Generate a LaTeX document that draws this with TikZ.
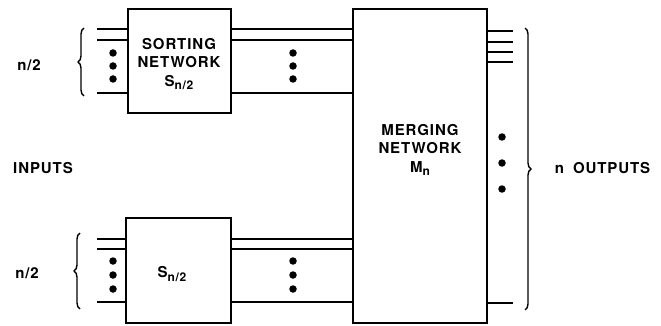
\documentclass[tikz,border=0pt]{standalone}
\usepackage{fontspec}
\setmainfont{TeX Gyre Heros}[LetterSpace=6]
\usetikzlibrary{positioning,decorations.pathreplacing}
\newcommand{\lowsub}[1]{\raisebox{-0.45ex}{\fontsize{12}{12}\selectfont #1}}

\begin{document}
\begin{tikzpicture}[x=1pt, y=-1pt, line width=1.7pt,
    box/.style={draw, line width=1.7pt, inner sep=0pt},
    lbl/.style={font=\fontsize{15}{18.5}\selectfont\bfseries, align=center, inner sep=0pt},
    dot/.style={circle, fill, inner sep=0pt, minimum size=7.5pt},
    brc/.style={decorate, decoration={brace, amplitude=6pt}, line width=1.4pt}]
    \useasboundingbox (0,0) rectangle (661,326);

    % Networks
    \node[box, minimum width=103pt, minimum height=104pt] (sortA) at (179.5,61) {};
    \node[box, minimum width=105pt, minimum height=105pt] (sortB) at (178.5,270.5) {};
    \node[box, minimum width=134pt, minimum height=314pt] (merge) at (420,166) {};

    \node[lbl] (sortAtxt) at (179,64) {SORTING\\NETWORK\\S\lowsub{n/2}};
    \node[lbl] (sortBtxt) at (172,274) {S\lowsub{n/2}};
    \node[lbl] (mergetxt) at (420,150) {MERGING\\NETWORK\\M\lowsub{n}};

    % Wires (top half)
    \foreach \y in {29,40,93} {
        \draw (97,\y) -- (sortA.west |- 0,\y);
        \draw (sortA.east |- 0,\y) -- (merge.west |- 0,\y);
    }
    % Wires (bottom half)
    \foreach \y in {239,249,302} {
        \draw (97,\y) -- (sortB.west |- 0,\y);
        \draw (sortB.east |- 0,\y) -- (merge.west |- 0,\y);
    }
    % Outputs
    \foreach \y in {31,42,52,62,303} {
        \draw (merge.east |- 0,\y) -- (513,\y);
    }

    % Dots
    \foreach \i/\y in {0/53, 1/66, 2/79} {
        \node[dot] (inA\i) at (113,\y) {};
        \node[dot] (midA\i) at (293,\y) {};
    }
    \foreach \i/\y in {0/261, 1/275, 2/289} {
        \node[dot] (inB\i) at (113,\y) {};
        \node[dot] (midB\i) at (293,\y) {};
    }
    \foreach \i/\y in {0/137, 1/163, 2/189} {
        \node[dot] (out\i) at (502,\y) {};
    }

    % Braces
    \draw[brc] (84,96) -- (84,28);
    \draw[brc] (80,309) -- (80,233);
    \draw[brc] (525,28) -- (525,310);

    \node[lbl] (halfA) at (29,65) {n/2};
    \node[lbl] (halfB) at (27,273) {n/2};
    \node[lbl] (inputs) at (43,168) {INPUTS};
    \node[lbl, anchor=west] (outputs) at (554,168) {n\hspace{0.6em}OUTPUTS};
\end{tikzpicture}
\end{document}
